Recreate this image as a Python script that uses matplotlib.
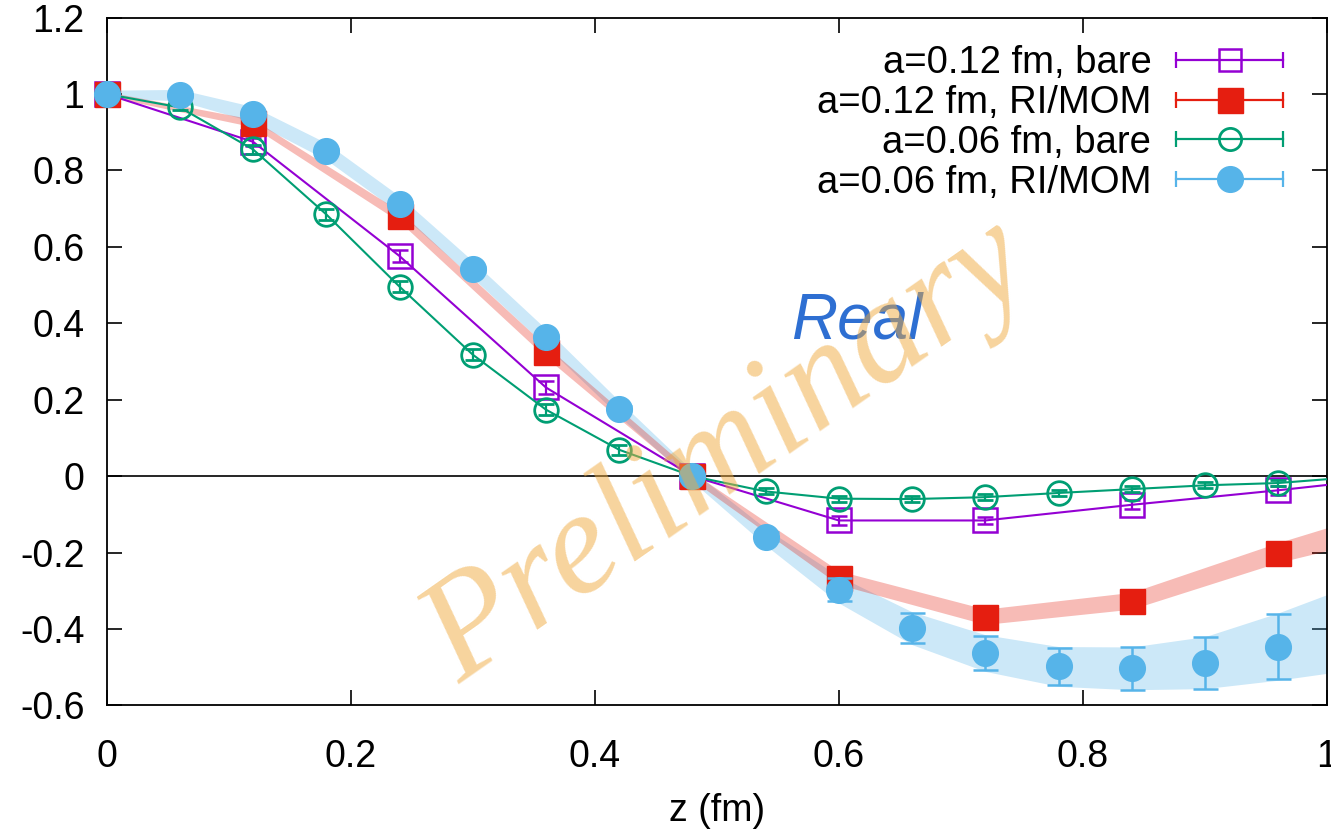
import matplotlib
matplotlib.use("Agg")
import matplotlib.pyplot as plt
import numpy as np
from matplotlib.lines import Line2D
from matplotlib.legend_handler import HandlerBase

plt.rcParams["font.family"] = ["Liberation Sans", "DejaVu Sans"]
plt.rcParams["axes.unicode_minus"] = False

# a=0.12 fm, bare (open squares); last point lies beyond the axis edge
z12_bare = [0.0, 0.12, 0.24, 0.36, 0.48, 0.60, 0.72, 0.84, 0.96, 1.08]
y12_bare = [1.0, 0.875, 0.576, 0.232, 0.0, -0.116, -0.116, -0.075, -0.037, 0.005]
e12_bare = [0.0, 0.010, 0.015, 0.018, 0.005, 0.012, 0.010, 0.012, 0.012, 0.012]

# a=0.12 fm, RI/MOM (filled squares)
z12_ri = [0.0, 0.12, 0.24, 0.36, 0.48, 0.60, 0.72, 0.84, 0.96]
y12_ri = [1.0, 0.924, 0.680, 0.326, 0.0, -0.266, -0.368, -0.326, -0.200]
e12_ri = [0.0, 0.005, 0.005, 0.006, 0.004, 0.008, 0.010, 0.010, 0.012]
# band drawn around the RI/MOM a=0.12 data
band12_z = [0.0, 0.12, 0.24, 0.36, 0.48, 0.60, 0.72, 0.84, 0.96, 1.0]
band12_y = [1.0, 0.924, 0.680, 0.326, 0.0, -0.266, -0.368, -0.326, -0.200, -0.165]
band12_w = [0.006, 0.010, 0.014, 0.015, 0.010, 0.018, 0.020, 0.022, 0.026, 0.030]

# a=0.06 fm, bare (open circles)
z06_bare = [0.0, 0.06, 0.12, 0.18, 0.24, 0.30, 0.36, 0.42, 0.48, 0.54,
            0.60, 0.66, 0.72, 0.78, 0.84, 0.90, 0.96, 1.02]
y06_bare = [1.0, 0.965, 0.855, 0.685, 0.496, 0.318, 0.174, 0.069, 0.0, -0.040,
            -0.059, -0.060, -0.055, -0.044, -0.034, -0.024, -0.018, -0.003]
e06_bare = [0.0, 0.008, 0.012, 0.015, 0.015, 0.015, 0.015, 0.013, 0.005, 0.008,
            0.008, 0.008, 0.008, 0.008, 0.008, 0.008, 0.008, 0.008]

# a=0.06 fm, RI/MOM (filled circles)
z06_ri = [0.0, 0.06, 0.12, 0.18, 0.24, 0.30, 0.36, 0.42, 0.48, 0.54,
          0.60, 0.66, 0.72, 0.78, 0.84, 0.90, 0.96]
y06_ri = [1.0, 0.997, 0.947, 0.850, 0.711, 0.541, 0.363, 0.177, 0.0, -0.159,
          -0.297, -0.398, -0.463, -0.498, -0.503, -0.488, -0.446]
e06_ri = [0.0, 0.004, 0.005, 0.005, 0.006, 0.006, 0.006, 0.006, 0.004, 0.012,
          0.030, 0.039, 0.044, 0.048, 0.057, 0.068, 0.086]
band06_z = z06_ri + [1.0]
band06_y = y06_ri + [-0.413]
band06_w = [0.010, 0.015, 0.020, 0.022, 0.022, 0.022, 0.022, 0.020, 0.014, 0.022,
            0.035, 0.043, 0.048, 0.052, 0.056, 0.068, 0.088, 0.103]

x_ticks = [0, 0.2, 0.4, 0.6, 0.8, 1.0]
y_ticks = [-0.6, -0.4, -0.2, 0, 0.2, 0.4, 0.6, 0.8, 1.0, 1.2]

PURPLE = "#9400d3"
RED = "#e51e10"
GREEN = "#009e73"
BLUE = "#56b4e9"


class CappedHandler(HandlerBase):
    # gnuplot style key sample: line with caps at both ends, marker in middle
    def create_artists(self, legend, orig_handle, xdescent, ydescent,
                       width, height, fontsize, trans):
        y = height / 2 - ydescent
        x0, x1 = -xdescent, -xdescent + width
        c = orig_handle.get_color()
        line = Line2D([x0, x1], [y, y], color=c, lw=1.6)
        caps = Line2D([x0, x1], [y, y], ls="none", marker="|", ms=11,
                      mew=1.6, color=c)
        mark = Line2D([(x0 + x1) / 2], [y], ls="none",
                      marker=orig_handle.get_marker(),
                      ms=orig_handle.get_markersize(),
                      mfc=orig_handle.get_markerfacecolor(),
                      mec=orig_handle.get_markeredgecolor(),
                      mew=orig_handle.get_markeredgewidth())
        for a in (line, caps, mark):
            a.set_transform(trans)
        return [line, caps, mark]


def inside(z, *cols):
    z = np.asarray(z)
    m = z <= 1.0
    return [z[m]] + [np.asarray(c)[m] for c in cols]


def main() -> None:
    fig = plt.figure(figsize=(13.31, 8.30), dpi=100)
    ax = fig.add_axes([0.0801, 0.1501, 0.9169, 0.8287])

    ax.axhline(0, color="black", lw=1.2, zorder=1)

    # bands
    ax.fill_between(band06_z, np.subtract(band06_y, band06_w),
                    np.add(band06_y, band06_w), color=BLUE, alpha=0.3,
                    lw=0, zorder=2)
    ax.fill_between(band12_z, np.subtract(band12_y, band12_w),
                    np.add(band12_y, band12_w), color=RED, alpha=0.3,
                    lw=0, zorder=2)

    # a=0.12 bare
    ax.plot(z12_bare, y12_bare, color=PURPLE, lw=1.5, zorder=3)
    z, y, e = inside(z12_bare, y12_bare, e12_bare)
    ax.errorbar(z, y, yerr=e, fmt="s", ms=17, mfc="none", mec=PURPLE,
                mew=1.8, ecolor=PURPLE, elinewidth=1.6, capsize=6,
                capthick=1.6, zorder=4, clip_on=False)

    # a=0.12 RI/MOM
    ax.errorbar(z12_ri, y12_ri, yerr=e12_ri, fmt="s", ms=18, color=RED,
                ecolor=RED, elinewidth=1.6, capsize=6, capthick=1.6,
                zorder=5, clip_on=False)

    # a=0.06 bare
    ax.plot(z06_bare, y06_bare, color=GREEN, lw=1.5, zorder=6)
    z, y, e = inside(z06_bare, y06_bare, e06_bare)
    ax.errorbar(z, y, yerr=e, fmt="o", ms=17, mfc="none", mec=GREEN,
                mew=2.0, ecolor=GREEN, elinewidth=1.6, capsize=6,
                capthick=1.6, zorder=7, clip_on=False)

    # a=0.06 RI/MOM
    ax.errorbar(z06_ri, y06_ri, yerr=e06_ri, fmt="o", ms=18.5, color=BLUE,
                ecolor=BLUE, elinewidth=1.8, capsize=9, capthick=1.8,
                zorder=8, clip_on=False)

    handles = [
        Line2D([], [], color=PURPLE, marker="s", ms=16, mfc="none",
               mec=PURPLE, mew=1.8),
        Line2D([], [], color=RED, marker="s", ms=18, mfc=RED, mec=RED),
        Line2D([], [], color=GREEN, marker="o", ms=16, mfc="none",
               mec=GREEN, mew=2.0),
        Line2D([], [], color=BLUE, marker="o", ms=18.5, mfc=BLUE, mec=BLUE),
    ]
    labels = ["a=0.12 fm, bare", "a=0.12 fm, RI/MOM",
              "a=0.06 fm, bare", "a=0.06 fm, RI/MOM"]
    ax.legend(handles, labels, loc="upper right",
              bbox_to_anchor=(0.964, 0.960), frameon=False, fontsize=27.5,
              markerfirst=False, handlelength=2.8, handletextpad=0.65,
              labelspacing=0.1, borderpad=0, borderaxespad=0,
              handler_map={Line2D: CappedHandler()})

    ax.text(0.615, 0.405, "Real", color="#2e6fd2", fontsize=46,
            style="italic", ha="center", va="center", zorder=9)
    ax.text(0.51, 0.06, "Preliminary", color="#efa93d", alpha=0.5,
            fontsize=106, family="Liberation Serif", style="italic",
            rotation=35, ha="center", va="center", zorder=10)

    ax.set_xlim(0, 1)
    ax.set_ylim(-0.6, 1.2)
    ax.set_xticks(x_ticks)
    ax.set_yticks(y_ticks)
    ax.set_xticklabels([f"{v:g}" for v in x_ticks])
    ax.set_yticklabels([f"{v:g}" for v in y_ticks])
    ax.tick_params(direction="in", length=11, width=1.2, top=True,
                   right=True, labelsize=27)
    ax.tick_params(axis="x", pad=24)
    ax.tick_params(axis="y", pad=16)
    for s in ax.spines.values():
        s.set_linewidth(1.3)
    ax.set_xlabel("z (fm)", fontsize=27, labelpad=13)

    fig.savefig("out.png", dpi=100)


if __name__ == "__main__":
    main()
